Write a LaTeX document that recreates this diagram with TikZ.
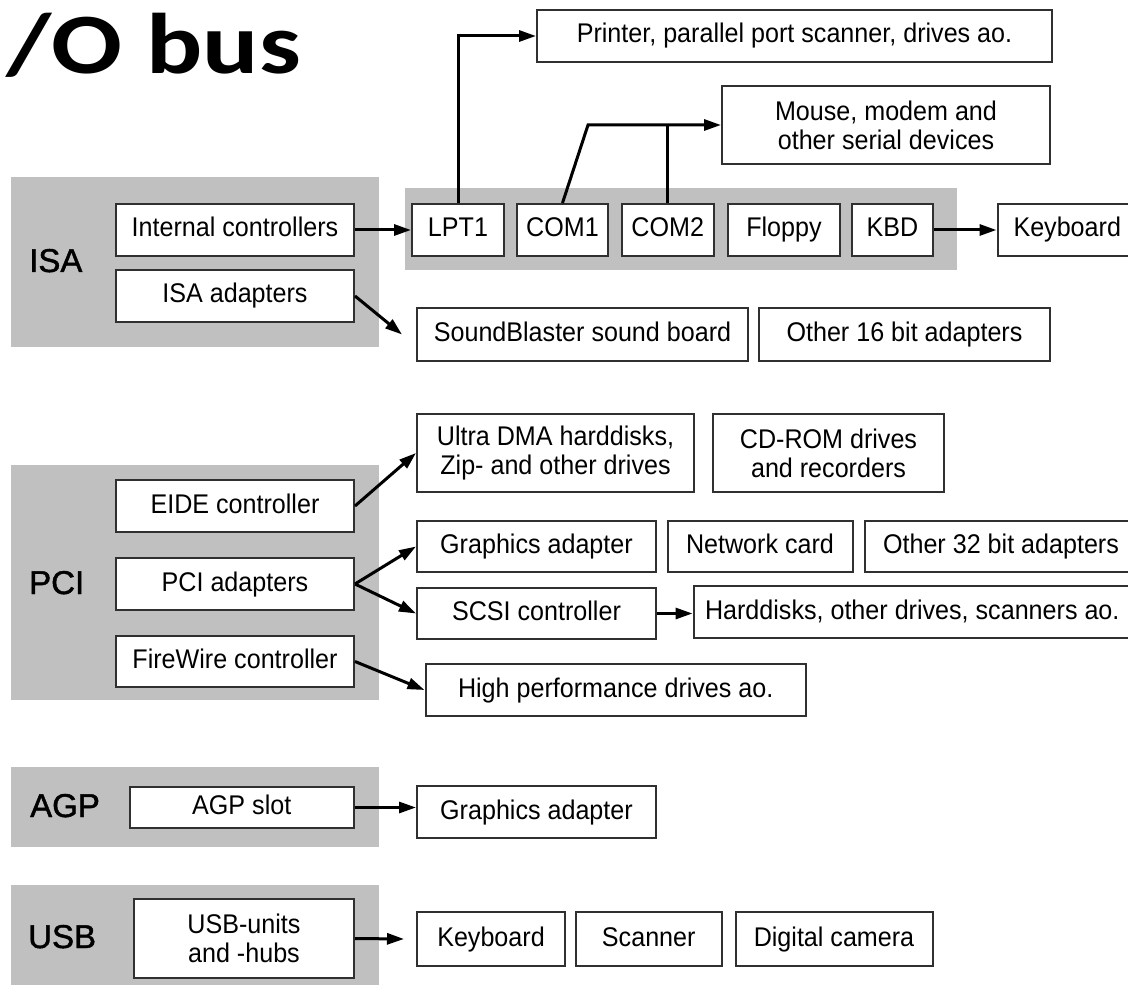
\documentclass[tikz,border=0pt]{standalone}
\usepackage{fontspec}
\setmainfont{Liberation Sans}[FakeStretch=0.93]
\newfontfamily\labfont{Liberation Sans}[FakeBold=1.4]
\newfontfamily\ttlfont{Carlito}[FakeStretch=1.22]
\usetikzlibrary{arrows.meta}
\definecolor{bggray}{HTML}{C0C0C0}
\definecolor{bordercol}{HTML}{303030}
\begin{document}
\begin{tikzpicture}[x=1pt,y=-1pt,
  box/.style={draw=bordercol, line width=2pt, fill=white, inner sep=0pt, align=center,
              font=\fontsize{27}{29}\selectfont, text height=20pt, text depth=6pt},
  boxtwo/.style={draw=bordercol, line width=2pt, fill=white, inner sep=0pt, align=center,
              font=\fontsize{27}{29}\selectfont},
  wh/.style 2 args={minimum width=#1pt, minimum height=#2pt},
  bg/.style={fill=bggray, draw=none, inner sep=0pt},
  lab/.style={font=\labfont\fontsize{33}{33}\selectfont, anchor=base west, inner sep=0pt},
  conn/.style={line width=3pt, draw=black},
  arr/.style={conn, -{Triangle[length=17pt,width=11pt]}},
]
\useasboundingbox (0,0) rectangle (1128,987);
\clip (0,0) rectangle (1128,987);
\fill[white] (0,0) rectangle (1128,987);

% title
\node[anchor=base east, inner sep=0pt, font=\ttlfont\bfseries\fontsize{86}{86}\selectfont] (title) at (301,74) {/O bus};

% gray backgrounds
\node[bg, wh={368}{170}] (isabg) at (195,262) {};
\node[bg, wh={552}{82}]  (portbg) at (681,229) {};
\node[bg, wh={368}{235}] (pcibg) at (195,582.5) {};
\node[bg, wh={368}{80}]  (agpbg) at (195,807) {};
\node[bg, wh={368}{100}] (usbbg) at (195,935) {};

% bus labels
\node[lab] (isal) at (29,272) {ISA};
\node[lab] (pcil) at (29,594) {PCI};
\node[lab] (agpl) at (30,817) {AGP};
\node[lab] (usbl) at (28,948) {USB};

% ISA
\node[box, wh={238}{52}] (intc) at (235,230) {Internal controllers};
\node[box, wh={238}{52}] (isaad) at (235,296) {ISA adapters};
\node[box, wh={92}{52}] (lpt) at (458,230) {LPT1};
\node[box, wh={91}{52}] (com1) at (562.5,230) {COM1};
\node[box, wh={92.5}{52}] (com2) at (667.75,230) {COM2};
\node[box, wh={112}{52}] (floppy) at (784,230) {Floppy};
\node[box, wh={81}{52}] (kbd) at (892.5,230) {KBD};
\node[box, wh={139.5}{52}] (keyb) at (1067.25,230) {Keyboard};
\node[box, wh={515}{52}] (printer) at (794.5,36) {Printer, parallel port scanner, drives ao.};
\node[boxtwo, wh={328}{78}] (mouse) at (886,125) {Mouse, modem and\\other serial devices};
\node[box, wh={331}{53}] (sound) at (582.5,334.5) {SoundBlaster sound board};
\node[box, wh={291}{53}] (other16) at (904.5,334.5) {Other 16 bit adapters};

% PCI
\node[box, wh={238}{52}] (eide) at (235,506) {EIDE controller};
\node[box, wh={238}{52}] (pciad) at (235,584) {PCI adapters};
\node[box, wh={238}{51}] (fire) at (235,661.5) {FireWire controller};
\node[boxtwo, wh={277}{78}] (ultra) at (555.5,453) {Ultra DMA harddisks,\\Zip- and other drives};
\node[boxtwo, wh={231}{78}] (cdrom) at (828.5,453) {CD-ROM drives\\and recorders};
\node[box, wh={239}{51}] (gfx1) at (536.5,546.5) {Graphics adapter};
\node[box, wh={185}{51}] (net) at (760,546.5) {Network card};
\node[box, wh={272}{51}] (other32) at (1001,546.5) {Other 32 bit adapters};
\node[box, wh={239}{51}] (scsi) at (536.5,613.5) {SCSI controller};
\node[box, wh={437.5}{52}] (hdd) at (912.25,612) {Harddisks, other drives, scanners ao.};
\node[box, wh={380.5}{52}] (high) at (615.75,690) {High performance drives ao.};

% AGP
\node[box, wh={224.5}{41}] (agpslot) at (241.75,807.5) {AGP slot};
\node[box, wh={239}{52}] (gfx2) at (536.5,812) {Graphics adapter};

% USB
\node[boxtwo, wh={220}{79}] (usbu) at (244,938.5) {USB-units\\and -hubs};
\node[box, wh={148}{54}] (kb2) at (491,939) {Keyboard};
\node[box, wh={146.5}{54}] (scan) at (648.75,939) {Scanner};
\node[box, wh={197}{54}] (cam) at (834,939) {Digital camera};

% connectors
\coordinate (cbend) at (588,125);
\draw[arr] (intc.east) -- (lpt.west);
\draw[arr] (lpt.north) |- (printer.west);
\draw[arr] (com1.north) -- (cbend) -- (mouse.west);
\draw[conn] (com2.north) -- (com2.north |- mouse.west);
\draw[arr] (kbd.east) -- (keyb.west);
\draw[arr] (isaad.east) -- ([xshift=-14pt]sound.west);
\draw[arr] (eide.east) -- (ultra.west);
\draw[arr] (pciad.east) -- (gfx1.west);
\draw[arr] (pciad.east) -- (scsi.west);
\draw[arr] (fire.east) -- (high.west);
\draw[arr] (scsi.east) -- (scsi.east -| hdd.west);
\draw[arr] (agpslot.east) -- (agpslot.east -| gfx2.west);
\draw[arr] (usbu.east) -- ([xshift=-12pt]kb2.west);
\end{tikzpicture}
\end{document}
